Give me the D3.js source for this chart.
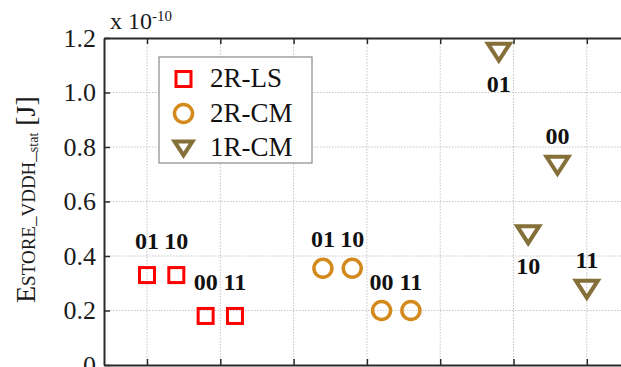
<!DOCTYPE html>
<html><head><meta charset="utf-8">
<script src="https://cdn.jsdelivr.net/npm/d3@7"></script>
<style>body{margin:0;background:#fff}svg{display:block}</style>
</head><body>
<svg id="c" width="621" height="367"></svg>
<script>
// ---- data ----
const seriesNames = ["2R-LS", "2R-CM", "1R-CM"];
const stateLabels = ["01", "10", "00", "11"];
const lsX = [1.0, 1.4, 1.8, 2.2];
const lsY = [0.33, 0.33, 0.18, 0.18];
const cmX = [3.4, 3.8, 4.2, 4.6];
const cmY = [0.355, 0.355, 0.20, 0.20];
const r1X = [5.8, 6.2, 6.6, 7.0];
const r1Labels = ["01", "10", "00", "11"];
const r1Y = [1.15, 0.48, 0.735, 0.28];
const r1LabelBelow = [true, true, false, false];
const yTicks = [0, 0.2, 0.4, 0.6, 0.8, 1.0, 1.2];
const yTickLabels = ["0", "0.2", "0.4", "0.6", "0.8", "1.0", "1.2"];
const xTicks = [1, 2, 3, 4, 5, 6, 7];

const colors = ["#ff0000", "#d4891c", "#85703a"];
const font = "'Liberation Serif','Times New Roman',serif";

const svg = d3.select("#c");
const L = 104, T = 38, B = 365;
const x = d3.scaleLinear().domain([0.4134, 7.6]).range([L, 630.8]);
const y = d3.scaleLinear().domain([0, 1.2]).range([B, T]);

// gridlines
const g = svg.append("g");
g.selectAll(".gx").data(xTicks).join("line")
  .attr("x1", d => x(d)).attr("x2", d => x(d)).attr("y1", T).attr("y2", B)
  .attr("stroke", "#c4c4c4").attr("stroke-width", 1).attr("stroke-dasharray", "1.5,1.5");
g.selectAll(".gy").data(yTicks.slice(1, -1)).join("line")
  .attr("x1", L).attr("x2", 621).attr("y1", d => y(d)).attr("y2", d => y(d))
  .attr("stroke", "#c4c4c4").attr("stroke-width", 1).attr("stroke-dasharray", "1.5,1.5");

// axes
const axL = svg.append("g").attr("transform", `translate(${L},0)`)
  .call(d3.axisLeft(y).tickValues(yTicks).tickFormat((d, i) => yTickLabels[i]).tickSizeInner(-6).tickSizeOuter(0).tickPadding(8));
const axT = svg.append("g").attr("transform", `translate(0,${T})`)
  .call(d3.axisTop(x).tickValues(xTicks).tickFormat("").tickSizeInner(-6).tickSizeOuter(0));
const axB = svg.append("g").attr("transform", `translate(0,${B})`)
  .call(d3.axisBottom(x).tickValues(xTicks).tickFormat("").tickSizeInner(-6).tickSizeOuter(0));
[axL, axT, axB].forEach(a => {
  a.select(".domain").attr("stroke", "#2a2a2a").attr("stroke-width", 2);
  a.selectAll(".tick line").attr("stroke", "#2a2a2a").attr("stroke-width", 1.5);
});
axL.selectAll(".tick text").attr("font-family", font).attr("font-size", 26).attr("fill", "#1a1a1a");

// exponent
const ex = svg.append("text").attr("x", 110).attr("y", 29).attr("font-family", font).attr("fill", "#1a1a1a");
ex.append("tspan").attr("font-size", 24).text("x 10");
ex.append("tspan").attr("font-size", 15).attr("dy", -8).text("-10");

// y label
const yl = svg.append("text").attr("transform", "translate(35,303) rotate(-90)")
  .attr("font-family", font).attr("fill", "#1a1a1a");
yl.append("tspan").attr("font-size", 28).text("E");
yl.append("tspan").attr("font-size", 19).text("STORE_VDDH_");
yl.append("tspan").attr("font-size", 14).attr("dy", 3).text("stat");
yl.append("tspan").attr("font-size", 28).attr("dy", -3).text(" [J]");

// markers
const tri = (s) => `M${-11*s},${-8*s}L${11*s},${-8*s}L0,${9*s}Z`;
function drawShape(sel, kind, color, s) {
  if (kind === 0) sel.append("rect").attr("x", -7.5).attr("y", -7.5).attr("width", 15).attr("height", 15)
      .attr("fill", "none").attr("stroke", color).attr("stroke-width", 3);
  else if (kind === 1) sel.append("circle").attr("r", 9).attr("fill", "none").attr("stroke", color).attr("stroke-width", 3.5);
  else sel.append("path").attr("d", tri(s)).attr("fill", "none").attr("stroke", color).attr("stroke-width", 4);
}
const groups = [
  {xs: lsX, ys: lsY, labels: stateLabels, below: [false,false,false,false]},
  {xs: cmX, ys: cmY, labels: stateLabels, below: [false,false,false,false]},
  {xs: r1X, ys: r1Y, labels: r1Labels, below: r1LabelBelow}
];
groups.forEach((grp, k) => {
  grp.xs.forEach((xv, i) => {
    const cx = x(xv), cy = y(grp.ys[i]);
    const m = svg.append("g").attr("transform", `translate(${cx},${cy})`);
    drawShape(m, k, colors[k], 1);
    const off = grp.below[i] ? 40 : (k === 0 ? -26 : -21);
    svg.append("text").attr("x", cx).attr("y", cy + off).attr("text-anchor", "middle")
      .attr("font-family", font).attr("font-weight", "bold").attr("font-size", 24).attr("fill", "#111")
      .text(grp.labels[i]);
  });
});

// legend
svg.append("rect").attr("x", 159).attr("y", 57).attr("width", 153).attr("height", 106)
  .attr("fill", "#fff").attr("stroke", "#8a8a8a").attr("stroke-width", 1.2);
seriesNames.forEach((n, k) => {
  const cy = 79 + k * 34.5;
  const m = svg.append("g").attr("transform", `translate(183.5,${cy})`);
  drawShape(m, k, colors[k], 0.82);
  svg.append("text").attr("x", 210).attr("y", cy + 8).attr("font-family", font).attr("font-size", 27)
    .attr("fill", "#111").text(n);
});
</script>
</body></html>
